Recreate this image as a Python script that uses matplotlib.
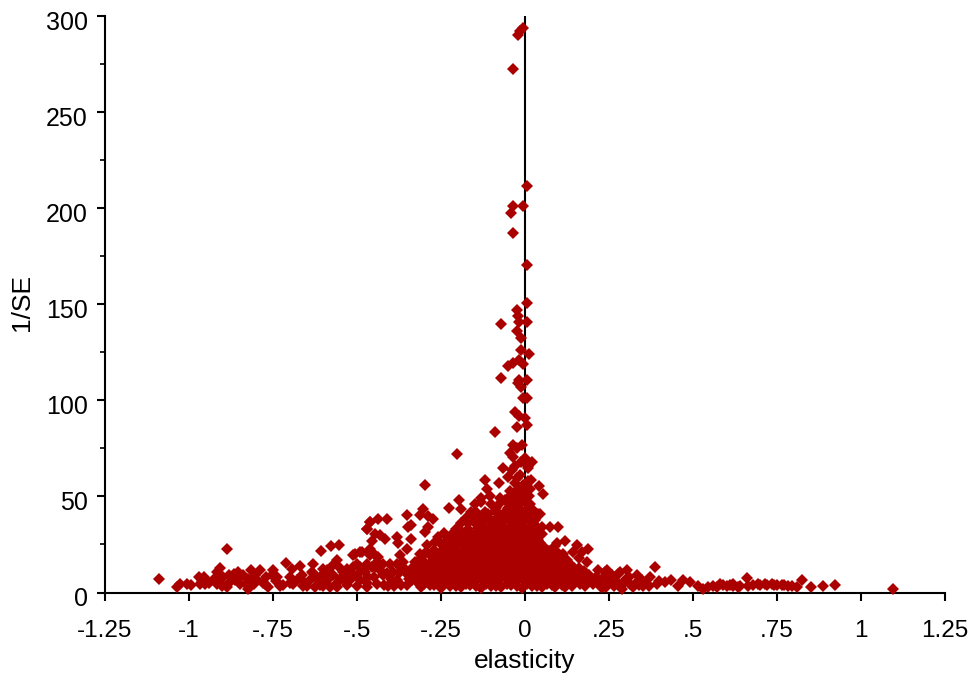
import matplotlib
matplotlib.use("Agg")
import matplotlib.pyplot as plt
from matplotlib.transforms import ScaledTranslation

plt.rcParams['font.family'] = ['Liberation Sans', 'DejaVu Sans']

x_tick_values = [-1.25, -1, -.75, -.5, -.25, 0, .25, .5, .75, 1, 1.25]
x_tick_labels = ['-1.25', '-1', '-.75', '-.5', '-.25', '0', '.25', '.5', '.75', '1', '1.25']
y_tick_values = [0, 50, 100, 150, 200, 250, 300]
y_minor_values = [25, 75, 125, 175, 225, 275]

peak_points = [
    (-.005, 293.6), (-.015, 292), (-.02, 290), (-.037, 272.5), (.006, 211.5), (-.037, 201), (-.007, 201),
    (-.042, 197.5), (-.037, 187.3), (.006, 170.5), (.006, 150.7), (-.024, 147), (-.02, 143.7), (.006, 140.6),
    (-.018, 140.6), (-.071, 139.6), (-.024, 136), (-.013, 132.2), (-.013, 126), (.012, 124), (-.019, 120.8),
    (-.035, 119.6), (-.05, 118), (-.007, 118.8), (-.071, 111.4), (-.018, 110.4), (-.013, 107), (.006, 110.4),
    (-.022, 109), (-.007, 101), (.006, 101), (-.03, 94), (-.018, 92), (0, 90.6), (-.025, 86), (.005, 87),
    (-.089, 83.5), (-.036, 76.6), (-.01, 76.6), (-.025, 75), (-.045, 72.4), (-.036, 70.5), (0, 69.8), (.02, 68),
    (.009, 64.6), (-.065, 64.6), (-.04, 63.5), (-.05, 60), (-.025, 59.4), (.018, 58.3), (.042, 55.2), (.053, 51),
    (-.203, 72), (-.298, 56), (-.119, 58.3), (-.114, 54), (-.077, 57), (-.196, 48), (-.225, 44), (-.191, 43.7),
    (.008, 66), (-.012, 68), (-.03, 66),
]

left_points = [
    (-1.09, 7.1), (-1.037, 2.8), (-1.027, 4.2), (-1.007, 4.2), (-.994, 3.8), (-.97, 8), (-.955, 8), (-.967, 4.2),
    (-.952, 4.2), (-.887, 22.6), (-.908, 12.8), (-.916, 10.6), (-.923, 7.6), (-.916, 4.5), (-.903, 3.6),
    (-.888, 2.8), (-.908, 6.3), (-.88, 8.9), (-.866, 9.4), (-.854, 10.6), (-.864, 6.3), (-.849, 4.5), (-.839, 8.9),
    (-.816, 11.5), (-.823, 7), (-.823, 2), (-.808, 4.5), (-.804, 8.9), (-.79, 11.5), (-.799, 6.5), (-.774, 4.5),
    (-.764, 3), (-.749, 11.5), (-.754, 8.9), (-.739, 8.3), (-.71, 15.6), (-.692, 12.3), (-.7, 8), (-.69, 4.5),
    (-.67, 14), (-.665, 8.9), (-.68, 6.3), (-.65, 3.6), (-.63, 15), (-.635, 10.6), (-.64, 6.3), (-.625, 2.8),
    (-.608, 21.7), (-.578, 24), (-.554, 24.8), (-.56, 16.7), (-.575, 14), (-.59, 11.5), (-.605, 8.9), (-.59, 6.3),
    (-.56, 2.8), (-.54, 7), (-.52, 10.6), (-.505, 20), (-.485, 21), (-.5, 15), (-.48, 12.3), (-.47, 33), (-.46, 36.6),
    (-.66, 3.5), (-.61, 4), (-.57, 9), (-.55, 13), (-.53, 4), (-.5, 3.5), (-.47, 3), (-.72, 4), (-.74, 6),
    (-.461, 36.6), (-.471, 33), (-.437, 38.4), (-.412, 38.4), (-.446, 30.6), (-.417, 28), (-.382, 28.8),
    (-.377, 25.7), (-.432, 29.7), (-.456, 27), (-.461, 22.7), (-.461, 19.3), (-.491, 21), (-.511, 19.3),
    (-.352, 22.7), (-.372, 19.3), (-.339, 28), (-.35, 40.5), (-.338, 34.9), (-.347, 34), (-.303, 43.6),
    (-.312, 40.5), (-.288, 40), (-.273, 38.4), (-.288, 34), (-.298, 31.4), (-.268, 26.2), (-.293, 24.5),
    (-.313, 20), (-.327, 15.8), (-.437, 18.4), (-.446, 13.2), (-.422, 15), (-.402, 15), (-.382, 15), (-.362, 15.8),
    (-.491, 13.2), (-.511, 13.2), (-.531, 12.3), (-.551, 7.1), (-.521, 6.3), (-.491, 6.3), (-.466, 8), (-.441, 4.5),
    (-.407, 3.6), (-.382, 6.3), (-.352, 9.7), (-.337, 6.3), (-.422, 8.9), (-.392, 10.6), (-.456, 13.2),
    (-.476, 10.6), (-.511, 8.9), (-.541, 10.6), (-.45, 8), (-.4, 7), (-.37, 4), (-.35, 4), (-.42, 4), (-.36, 12.5),
    (-.47, 5), (-.43, 11), (-.41, 10), (-.375, 10), (-.39, 3.5), (-.345, 7), (-.44, 16), (-.5, 9), (-.53, 8), (-.47, 15),
    (-.45, 20), (-.56, 5), (-.58, 3), (-.6, 3.5), (-.62, 7), (-.66, 6), (-.7, 5), (-.77, 8), (-.78, 5), (-.83, 4.5),
    (-.85, 7.5), (-.88, 5), (-.9, 8), (-.94, 5), (-.96, 6), (-.73, 3.5), (-.63, 10), (-.6, 12), (-.58, 8),
]

core_points = [
    (-.31, 3), (-.282, 4), (-.25, 2.5), (-.222, 3.5), (-.19, 2.8), (-.163, 4), (-.13, 2.5), (-.102, 3.5), (-.07, 2.8),
    (-.042, 3.8), (-.01, 2.2), (.02, 3.5), (.05, 2.8), (.081, 4),
    (-.325, 6), (-.295, 7), (-.265, 6), (-.235, 6.5), (-.205, 6), (-.175, 7), (-.145, 6), (-.115, 6.5), (-.085, 6),
    (-.055, 7), (-.025, 6), (.005, 6.5), (.035, 6), (.066, 7), (.095, 6),
    (-.31, 9), (-.28, 9.5), (-.25, 9), (-.22, 9.5), (-.19, 9), (-.16, 9.5), (-.13, 9), (-.1, 9.5), (-.07, 9), (-.04, 9.5),
    (-.01, 9), (.02, 9.5), (.05, 9), (.08, 9.5),
    (-.325, 12), (-.295, 12), (-.265, 12.5), (-.235, 12), (-.205, 12.5), (-.175, 12), (-.145, 12.5), (-.115, 12),
    (-.085, 12.5), (-.055, 12), (-.025, 12.5), (.005, 12), (.035, 12.5), (.065, 12), (.09, 12.5),
    (-.315, 15), (-.285, 15), (-.255, 15.5), (-.225, 15), (-.195, 15.5), (-.165, 15), (-.135, 15.5), (-.105, 15),
    (-.075, 15.5), (-.045, 15), (-.015, 15.5), (.015, 15), (.045, 15.5), (.075, 15),
    (-.31, 18), (-.27, 18), (-.24, 18.5), (-.21, 18), (-.18, 18.5), (-.15, 18), (-.12, 18.5), (-.09, 18), (-.06, 18.5),
    (-.03, 18), (0, 18.5), (.03, 18), (.06, 18.5), (.085, 18),
    (-.295, 21), (-.25, 21), (-.225, 21.5), (-.195, 21), (-.165, 21.5), (-.135, 21), (-.105, 21.5), (-.075, 21),
    (-.045, 21.5), (-.015, 21), (.015, 21.5), (.045, 21), (.07, 21.5),
    (-.24, 24), (-.21, 24.5), (-.18, 24), (-.15, 24.5), (-.12, 24), (-.09, 24.5), (-.06, 24), (-.03, 24.5), (0, 24),
    (.03, 24.5), (.055, 24),
    (-.225, 27), (-.2, 27.5), (-.17, 27), (-.14, 27.5), (-.11, 27), (-.08, 27.5), (-.05, 27), (-.02, 27.5), (.01, 27),
    (.04, 27.5),
    (-.21, 30), (-.185, 30.5), (-.155, 30), (-.125, 30.5), (-.095, 30), (-.065, 30.5), (-.035, 30), (-.005, 30.5),
    (.025, 30), (.05, 30.5),
    (-.195, 33), (-.17, 33), (-.14, 33.5), (-.11, 33), (-.08, 33.5), (-.05, 33), (-.02, 33.5), (.01, 33), (.04, 33.5),
    (-.17, 36), (-.15, 36), (-.125, 36.5), (-.095, 36), (-.065, 36.5), (-.035, 36), (-.005, 36.5), (.025, 36),
    (-.16, 39), (-.135, 39), (-.11, 39.5), (-.08, 39), (-.05, 39.5), (-.02, 39), (.01, 39.5), (.04, 41),
    (-.145, 42), (-.12, 42), (-.09, 42.5), (-.06, 42), (-.03, 42.5), (0, 42), (.025, 43),
    (-.15, 46), (-.13, 47), (-.1, 46), (-.07, 47), (-.04, 46), (-.01, 47), (.015, 46),
    (-.13, 49), (-.105, 50), (-.075, 49), (-.045, 50), (-.015, 49), (.012, 50),
    (-.045, 53), (-.02, 54), (.005, 53), (-.03, 57), (-.005, 56), (.01, 58), (-.015, 61),
]

core_fill_points = [
    (-.3, 4.5), (-.27, 4), (-.24, 4.5), (-.205, 3.5), (-.175, 4.5), (-.145, 3.5), (-.115, 4.5), (-.085, 3.5), (-.055, 4.5),
    (-.025, 3.5), (.005, 4.5), (.035, 3.5), (.065, 4.5),
    (-.31, 7.5), (-.28, 7.5), (-.25, 7.5), (-.22, 7.5), (-.19, 7.5), (-.16, 7.5), (-.13, 7.5), (-.1, 7.5), (-.07, 7.5),
    (-.04, 7.5), (-.01, 7.5), (.02, 7.5), (.05, 7.5), (.08, 7.5),
    (-.295, 10.5), (-.265, 10.5), (-.235, 10.5), (-.205, 10.5), (-.175, 10.5), (-.145, 10.5), (-.115, 10.5), (-.085, 10.5),
    (-.055, 10.5), (-.025, 10.5), (.005, 10.5), (.035, 10.5), (.065, 10.5),
    (-.31, 13.5), (-.28, 13.5), (-.25, 13.5), (-.22, 13.5), (-.19, 13.5), (-.16, 13.5), (-.13, 13.5), (-.1, 13.5), (-.07, 13.5),
    (-.04, 13.5), (-.01, 13.5), (.02, 13.5), (.05, 13.5), (.08, 13.5),
    (-.27, 16.5), (-.24, 16.5), (-.21, 16.5), (-.18, 16.5), (-.15, 16.5), (-.12, 16.5), (-.09, 16.5), (-.06, 16.5),
    (-.03, 16.5), (0, 16.5), (.03, 16.5), (.06, 16.5),
    (-.255, 19.5), (-.225, 19.5), (-.195, 19.5), (-.165, 19.5), (-.135, 19.5), (-.105, 19.5), (-.075, 19.5), (-.045, 19.5),
    (-.015, 19.5), (.015, 19.5), (.045, 19.5), (.075, 19.5),
    (-.24, 22.5), (-.21, 22.5), (-.18, 22.5), (-.15, 22.5), (-.12, 22.5), (-.09, 22.5), (-.06, 22.5), (-.03, 22.5), (0, 22.5),
    (.03, 22.5), (.06, 22.5),
    (-.195, 25.5), (-.165, 25.5), (-.135, 25.5), (-.105, 25.5), (-.075, 25.5), (-.045, 25.5), (-.015, 25.5), (.015, 25.5),
    (.045, 25.5),
    (-.18, 28.5), (-.15, 28.5), (-.12, 28.5), (-.09, 28.5), (-.06, 28.5), (-.03, 28.5), (0, 28.5), (.03, 28.5),
    (-.17, 31.5), (-.14, 31.5), (-.11, 31.5), (-.08, 31.5), (-.05, 31.5), (-.02, 31.5), (.01, 31.5), (.04, 31.5),
    (-.13, 34.5), (-.1, 34.5), (-.07, 34.5), (-.04, 34.5), (-.01, 34.5), (.02, 34.5),
    (-.12, 37.5), (-.09, 37.5), (-.06, 37.5), (-.03, 37.5), (0, 37.5), (.03, 37.5),
    (-.11, 41), (-.075, 40.5), (-.045, 40.5), (-.015, 40.5), (.015, 40.5),
    (-.085, 44), (-.05, 44), (-.02, 44), (.01, 44), (-.06, 48), (-.03, 48), (0, 48), (-.03, 51.5), (-.005, 51.5), (.015, 54),
    (-.27, 22), (-.28, 19), (-.3, 16), (-.25, 25), (-.235, 27), (-.22, 30), (-.205, 33), (-.19, 36),
    (-.175, 39), (-.16, 42), (-.33, 9), (-.34, 12), (-.24, 31), (-.26, 29),
]

right_points = [
    (.05, 34), (.074, 34), (.099, 34), (.045, 41), (.119, 27), (.094, 26), (.154, 24.5), (.188, 22.7), (.169, 21),
    (.184, 15.8), (.144, 21), (.084, 22.7), (.218, 11.5), (.243, 11.5), (.276, 9.7), (.203, 4.5), (.226, 3),
    (.164, 4.5), (.134, 15), (.104, 16.7), (.094, 9.7), (.124, 8), (.064, 13.9), (.035, 28), (.112, 20), (.13, 11),
    (.15, 9), (.17, 7), (.11, 4), (.14, 3.5), (.19, 9), (.16, 13), (.12, 3), (.18, 3.5), (.21, 8), (.25, 6), (.265, 3.5),
    (.24, 3), (.29, 4), (.1, 13), (.115, 12), (.145, 13), (.11, 7), (.13, 5), (.15, 5.5), (.185, 6), (.09, 3), (.1, 20),
    (.125, 17), (.16, 18), (.2, 7), (.23, 7), (.26, 9), (.275, 5.5), (.3, 7), (.32, 3), (.33, 5), (.35, 3.5),
    (.105, 10), (.12, 14), (.09, 15), (.1, 6), (.14, 7), (.16, 8), (.175, 11), (.11, 18), (.08, 20), (.09, 24),
    (1.094, 1.7), (.923, 4), (.886, 3.6), (.85, 2.8), (.825, 6.3), (.809, 2.8), (.784, 3.6), (.764, 4), (.734, 4.5),
    (.714, 4.5), (.694, 4.5), (.66, 7.5), (.665, 3.6), (.635, 2.8), (.62, 3.6), (.6, 3.6), (.58, 4.5), (.56, 3.6),
    (.546, 2.8), (.529, 1.9), (.516, 3.6), (.491, 5.4), (.471, 6.3), (.456, 3.6), (.436, 6.3), (.416, 5.4), (.392, 4.5),
    (.387, 13.5), (.372, 8), (.347, 6.3), (.332, 9), (.313, 4.5), (.303, 11.5), (.283, 10.6), (.288, 2), (.273, 5.4),
    (.253, 8), (.238, 10.6), (.223, 6.3), (.233, 3), (.37, 3.5), (.4, 6), (.62, 4.5), (.74, 3.8), (.7, 3.8), (.57, 3),
    (.59, 4), (.61, 4), (.64, 3.5), (.68, 4), (.72, 4), (.75, 4), (.77, 4), (.795, 3.5), (.36, 5), (.34, 4), (.31, 8),
]

fig = plt.figure(figsize=(9.77, 6.81), dpi=100)
ax = fig.add_axes([105 / 977, 1 - 592.5 / 681, 840 / 977, 576.5 / 681])
ax.set_xlim(-1.25, 1.25)
ax.set_ylim(0, 300)

for group in (peak_points, left_points, core_points, core_fill_points, right_points):
    xs = [p[0] for p in group]
    ys = [p[1] for p in group]
    ax.plot(xs, ys, linestyle='none', marker='D', markersize=6.1, color='#AA0000',
            markeredgewidth=0, clip_on=False, zorder=3)

ax.axvline(0, color='black', linewidth=1.5, zorder=2)
ax.spines['top'].set_visible(False)
ax.spines['right'].set_visible(False)
ax.spines['left'].set_linewidth(1.5)
ax.spines['bottom'].set_linewidth(1.5)
ax.set_xticks(x_tick_values)
ax.set_xticklabels(x_tick_labels, fontsize=17.5)
ax.set_yticks(y_tick_values)
ax.set_yticks(y_minor_values, minor=True)
ax.tick_params(axis='y', which='major', length=6, width=1.5, labelsize=18, pad=6.5, direction='out')
ax.tick_params(axis='x', which='major', length=6, width=1.5, labelsize=17.5, pad=13.5, direction='out')
ax.tick_params(axis='y', which='minor', length=3.5, width=1.2, direction='out')
down = ScaledTranslation(0, -4 / 100, fig.dpi_scale_trans)
for label in ax.get_yticklabels():
    label.set_transform(label.get_transform() + down)
ax.set_xlabel('elasticity', fontsize=19, labelpad=5)
ax.set_ylabel('1/SE', fontsize=19)
ax.yaxis.set_label_coords((34 - 105) / 840, (592.5 - 302) / 576.5)

fig.savefig('out.png', dpi=100)
